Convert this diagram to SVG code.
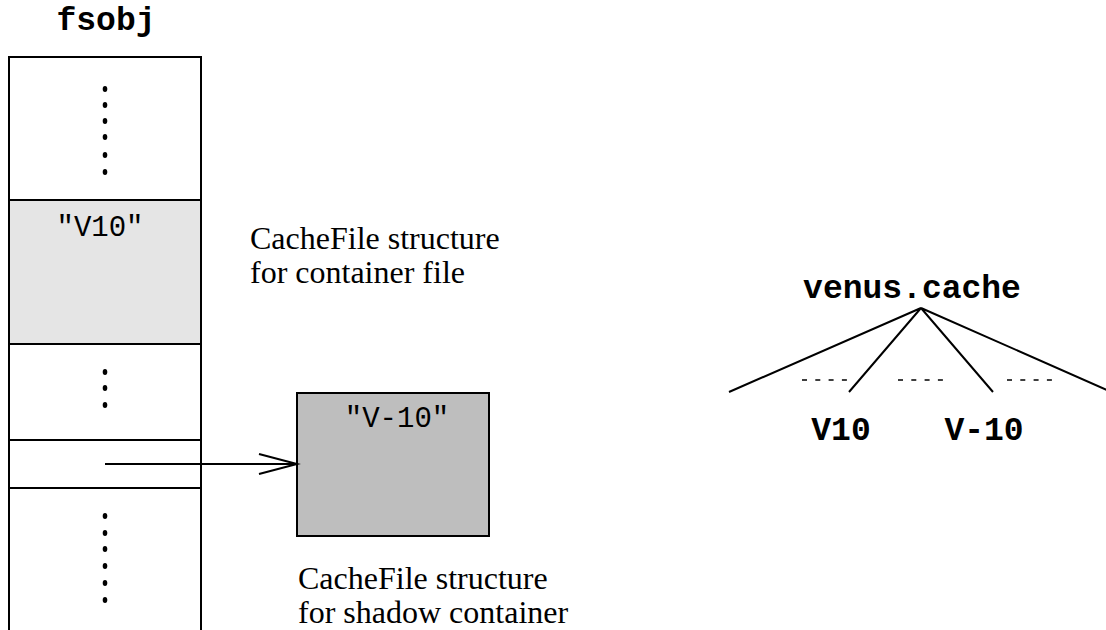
<svg xmlns="http://www.w3.org/2000/svg" width="1106" height="630" viewBox="0 0 1106 630">
<style>
.ln{stroke:#000;stroke-width:2;fill:none}
.box{stroke:#000;stroke-width:2}
.mono{font-family:"Liberation Mono","Courier New",monospace;font-size:29px;fill:#000}
.monob{font-family:"Liberation Mono","Courier New",monospace;font-size:33px;font-weight:bold;fill:#000}
.serif{font-family:"Liberation Serif","Times New Roman",serif;font-size:32px;fill:#000}
.dot{fill:#000}
.dash{stroke:#000;stroke-width:1.5;stroke-dasharray:5 8.3;fill:none}
</style>
<rect width="1106" height="630" fill="#fff"/>
<g id="fsobj">
  <text class="monob" x="106" y="30" text-anchor="middle">fsobj</text>
  <rect x="9" y="200" width="192" height="144" fill="#e5e5e5"/>
  <path class="ln" d="M9 640 V57 H201 V640"/>
  <path class="ln" d="M9 200 H201 M9 344 H201 M9 440 H201 M9 488 H201"/>
  <g class="dot">
    <ellipse cx="105" cy="89" rx="2.3" ry="3"/>
    <ellipse cx="105" cy="105" rx="2.3" ry="3"/>
    <ellipse cx="105" cy="121" rx="2.3" ry="3"/>
    <ellipse cx="105" cy="137" rx="2.3" ry="3"/>
    <ellipse cx="105" cy="155" rx="2.3" ry="3"/>
    <ellipse cx="105" cy="172" rx="2.3" ry="3"/>
    <ellipse cx="105" cy="372" rx="2.3" ry="3"/>
    <ellipse cx="105" cy="388" rx="2.3" ry="3"/>
    <ellipse cx="105" cy="405" rx="2.3" ry="3"/>
    <ellipse cx="105" cy="516" rx="2.3" ry="3"/>
    <ellipse cx="105" cy="533" rx="2.3" ry="3"/>
    <ellipse cx="105" cy="549" rx="2.3" ry="3"/>
    <ellipse cx="105" cy="566" rx="2.3" ry="3"/>
    <ellipse cx="105" cy="583" rx="2.3" ry="3"/>
    <ellipse cx="105" cy="600" rx="2.3" ry="3"/>
  </g>
  <text class="mono" x="100" y="236" text-anchor="middle">"V10"</text>
</g>
<g id="label-container">
  <text class="serif" x="250" y="249">CacheFile structure</text>
  <text class="serif" x="250" y="283">for container file</text>
</g>
<g id="shadow">
  <rect class="box" x="297" y="393" width="192" height="143" fill="#bebebe"/>
  <text class="mono" x="397" y="427" text-anchor="middle">"V-10"</text>
</g>
<g id="label-shadow">
  <text class="serif" x="298" y="589">CacheFile structure</text>
  <text class="serif" x="298" y="623">for shadow container</text>
</g>
<g id="venus">
  <text class="monob" x="912" y="298" text-anchor="middle">venus.cache</text>
  <text class="monob" x="841" y="440" text-anchor="middle">V10</text>
  <text class="monob" x="984" y="440" text-anchor="middle">V-10</text>
</g>
<g id="connectors">
  <path class="ln" d="M105 464 H297"/>
  <path class="ln" d="M259 454 L297 464 L259 474"/>
  <path class="ln" d="M729 392 L921 308 L849 392 M921 308 L993 392 M921 308 L1107 390"/>
  <path class="dash" d="M802 380 H850 M898 380 H946 M1007 380 H1055"/>
</g>
</svg>
